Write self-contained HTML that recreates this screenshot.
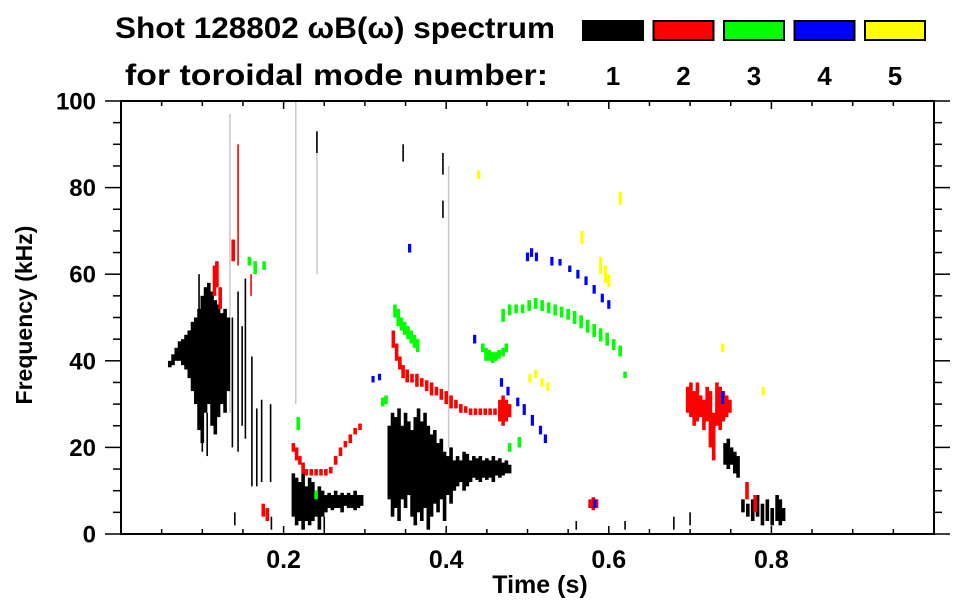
<!DOCTYPE html>
<html><head><meta charset="utf-8"><style>
html,body{margin:0;padding:0;background:#fff;}
svg{display:block;font-family:"Liberation Sans",Arial,sans-serif;font-weight:bold;}
</style></head><body>
<svg id="chart" width="963" height="615" viewBox="0 0 963 615" xmlns="http://www.w3.org/2000/svg">
<rect width="963" height="615" fill="#fff"/>
<text x="115" y="38" font-size="30" textLength="440" lengthAdjust="spacingAndGlyphs">Shot 128802 ωB(ω) spectrum</text>
<text x="125" y="85" font-size="30" textLength="423" lengthAdjust="spacingAndGlyphs">for toroidal mode number:</text>
<g id="legend"></g>
<g id="marks"></g>
<g id="axes"></g>
<text x="540" y="593" font-size="25" text-anchor="middle">Time (s)</text>
<text transform="translate(32,315) rotate(-90)" font-size="23" text-anchor="middle">Frequency (kHz)</text>
</svg>
<script>
// ---- data (time s, freq low kHz, freq high kHz) ----
const legendColors = ["#000000","#ff0000","#00ff00","#0000ff","#ffff00"];
const legendLabels = ["1","2","3","4","5"];
const xTickValues = [0.2,0.4,0.6,0.8];
const xTickLabels = ["0.2","0.4","0.6","0.8"];
const yTickValues = [0,20,40,60,80,100];
const yTickLabels = ["0","20","40","60","80","100"];

const m1T  = [0.060,0.064,0.068,0.072,0.076,0.080,0.084,0.088,0.092,0.096,0.100,0.104,0.108,0.112,0.116,0.120,0.124,0.128,0.132,
 0.212,0.216,0.220,0.224,0.228,0.232,0.236,0.240,0.244,0.248,0.252,0.256,0.260,0.264,0.268,0.272,0.276,0.280,0.284,0.288,0.292,0.296,
 0.330,0.334,0.338,0.342,0.346,0.350,0.354,0.358,0.362,0.366,0.370,0.374,0.378,0.382,0.386,0.390,0.394,0.398,0.402,0.406,0.410,0.414,0.418,0.422,0.426,0.430,0.434,0.438,0.442,0.446,0.450,0.454,0.458,0.462,0.466,0.470,0.474,0.478,
 0.743,0.747,0.751,0.755,0.759,0.765,0.771,0.777,0.783,0.789,0.795,0.801,0.807,0.811,0.815];
const m1Lo = [38.5,39,40,40,39,38,36,33,30,24,21,28,30,25,23,27,30,28,33,
 4,2,3,1,3,2,3,4,1,4,5,6,5.5,6,6,5,6.5,6,6,5.5,6,6.5,
 8,4,6,3,8,6,9,4,2,5,3,6,1,4,7,5,8,3,9,7,10,11,12,10,11,12,13,12.5,12,13,12.5,13,12,13.5,13,13.5,14,14,
 16,15,16,14,13,5,4,3,4,2,3,2,3,2,3];
const m1Hi = [40,41.5,43,44.5,45,46,47,49,50,52,55,57,58,56,54,53,51,52,50,
 14,13,12,14,11,13,12,10,11,10,9,9.5,9,10,9,9.5,9,9.5,9,10,9,9,
 25,28,27,29,25,28,26,24,27,29,26,28,25,23,24,21,22,19,18,20,17,18,17,19,18.5,17,18,17.5,18,17,17.5,17,18,17,17.5,16.5,17,16,
 21,22,20,19,18,8,7,8,9,7,8,6,9,8,6];
// thin vertical mode-1 stripes
const s1T  = [0.100,0.106,0.137,0.144,0.149,0.153,0.161,0.167,0.173,0.184,0.096,0.347,0.396,0.396,0.241,0.560,0.620,0.680,0.700,0.140,0.185,0.250];
const s1Lo = [19,18,20,19,25,22,11,11,12,12,42,86,73,83,88,1,1,1,2,2,1,1];
const s1Hi = [30,28,50,56,48,59,41,29,31,30,60,90,77,88,93,3,3,4,5,5,4,4];
// light gray stripes
const gT  = [0.134,0.215,0.241,0.403];
const gLo = [28,30,60,20];
const gHi = [97,100,93,85];

const m2T  = [0.115,0.118,0.122,0.138,0.212,0.216,0.220,0.224,0.228,0.234,0.240,0.246,0.252,0.258,0.264,0.270,0.276,0.282,0.288,0.294,
 0.335,0.339,0.343,0.347,0.352,0.358,0.364,0.370,0.376,0.382,0.388,0.394,0.400,0.406,0.412,0.418,0.424,0.430,0.436,0.442,0.448,0.454,0.460,0.466,0.470,0.474,0.478,
 0.577,0.581,0.585,0.697,0.701,0.705,0.709,0.713,0.717,0.721,0.725,0.729,0.733,0.737,0.741,0.745,0.749,0.770,0.780,0.175,0.180];
const m2Lo = [55,57,52,63,19,17,16,14,13.5,13.5,13.5,13.5,13.5,14,16,18,20,21,23,24,
 43,40,38,36,35,35,34,34,33,32,32,31,30,29,29,28,28,27.5,27.5,27.5,27.5,27.5,27.5,26,25,26,27,
 6,5.5,6,28,27,25,26,27,24,26,20,17,25,24,26,27,28,8,5,4,3];
const m2Hi = [62,63,57,68,21,20,18,16.5,15,15,15,15,15,15.5,18,20,21.5,23,24.5,25.5,
 47,44,41,39,38,37,37,36,35.5,35,34,33.5,33,32,31,30,29.5,29,29,29,29,29,29,31,32,31,30,
 8,8.5,8,34,35,33,35,32,31,34,33,28,35,34,33,32,31,12,9,7,6];
const s2T  = [0.144,0.160];
const s2Lo = [62,55];
const s2Hi = [90,60];

const m3T  = [0.158,0.165,0.176,0.218,0.322,0.326,0.337,0.341,0.345,0.349,0.353,0.357,0.361,0.365,
 0.445,0.449,0.453,0.457,0.461,0.465,0.470,0.474,
 0.470,0.478,0.486,0.494,0.502,0.510,0.518,0.526,0.534,0.542,0.550,0.558,0.566,0.574,0.582,0.590,0.598,0.606,0.614,0.478,0.490,0.240,0.620];
const m3Lo = [62,60,61,24,29.5,30,50,48,47,46,45,44,43,42,
 42,40,40,39.5,40,40.5,41,42,
 49,50.5,51,51,51.5,52,51.5,51,50.5,50,49.5,48.5,47.5,46.5,45.5,44.5,43.5,42.5,41,19,20,8,36];
const m3Hi = [64,63,63,27,31.5,32,53,52,50,49,48,47,46,45,
 44,43,42.5,42,42,42.5,43,44,
 52,53,53,53,54,54.5,54,53.5,53,52.5,52,51.5,50.5,49.5,48.5,47.5,46.5,45,43.5,21,22.4,10,37.5];

const m4T  = [0.310,0.318,0.435,0.468,0.476,0.488,0.496,0.506,0.516,0.522,
 0.500,0.505,0.511,0.530,0.540,0.552,0.562,0.572,0.582,0.592,0.600,0.583,0.355,0.740];
const m4Lo = [35,35.5,44,34,32,29.5,27.5,25,23,21,
 63,64,63,62,62,60.5,59,57.5,55.5,53.5,52,6,65,30];
const m4Hi = [36.5,37,46,36,34,31.5,30,27.5,25,23,
 65,66,65,64,63.5,62,61,59.5,57.5,55.5,54,8,67,33];

const m5T  = [0.567,0.590,0.596,0.600,0.614,0.503,0.510,0.518,0.525,0.740,0.440,0.790];
const m5Lo = [67,60,58,57,76,35,36,34,33,42,82,32];
const m5Hi = [70,64,62,60,79,37,38,36,35,44,84,34];

// ---- axes mapping ----
const L=121,R=934,T=101,B=534;
const xMin=0,xMax=1,yMin=0,yMax=100;
function X(t){return L+(t-xMin)/(xMax-xMin)*(R-L);}
function Y(f){return B-(f-yMin)/(yMax-yMin)*(B-T);}
const NS="http://www.w3.org/2000/svg";
function mk(tag,attrs,parent){const e=document.createElementNS(NS,tag);for(const k in attrs)e.setAttribute(k,attrs[k]);parent.appendChild(e);return e;}
const marks=document.getElementById('marks');
function drawCols(ts,los,his,color,w,name){
  for(let i=0;i<ts.length;i++){
    const y1=Y(his[i]),y2=Y(los[i]);
    const r=mk('rect',{x:X(ts[i])-w/2,y:y1,width:w,height:Math.max(1,y2-y1),fill:color},marks);
    
    
  }
}
drawCols(gT,gLo,gHi,"#c8c8c8",1.5,"gray-stripe");
drawCols(m1T,m1Lo,m1Hi,"#000",3.6,"mode1-cell");
drawCols(s1T,s1Lo,s1Hi,"#000",1.6,"mode1-stripe");
drawCols(m2T,m2Lo,m2Hi,"#ff0000",3.6,"mode2-cell");
drawCols(s2T,s2Lo,s2Hi,"#ff0000",1.6,"mode2-stripe");
drawCols(m3T,m3Lo,m3Hi,"#00ff00",3.6,"mode3-cell");
drawCols(m4T,m4Lo,m4Hi,"#0000ff",3.2,"mode4-cell");
drawCols(m5T,m5Lo,m5Hi,"#ffff00",3.2,"mode5-cell");

const axes=document.getElementById('axes');
const frame=mk('rect',{x:L,y:T,width:R-L,height:B-T,fill:"none",stroke:"#000","stroke-width":2},axes);


for(let v=0;v<=1.0001;v+=0.05){
  const major=Math.abs(v/0.2-Math.round(v/0.2))<1e-6;
  const len=major?8:5;const x=X(v);
  const a=mk('line',{x1:x,y1:B,x2:x,y2:B-len,stroke:"#000","stroke-width":1.5},axes);
  
  
  const b=mk('line',{x1:x,y1:T,x2:x,y2:T+len,stroke:"#000","stroke-width":1.5},axes);
  
  
}
xTickValues.forEach((v,i)=>{
  const t=mk('text',{x:X(v),y:568,"font-size":25,"text-anchor":"middle"},axes);
  t.textContent=xTickLabels[i];
  
  
});
for(let v=0;v<=100;v+=5){
  const major=v%20===0;const len=major?16:8;const y=Y(v);
  const a=mk('line',{x1:L,y1:y,x2:L-len,y2:y,stroke:"#000","stroke-width":1.5},axes);
  
  
  const b=mk('line',{x1:R,y1:y,x2:R+len,y2:y,stroke:"#000","stroke-width":1.5},axes);
  
  
}
yTickValues.forEach((v,i)=>{
  const t=mk('text',{x:96,y:Y(v)+8.5,"font-size":24,"text-anchor":"end"},axes);
  t.textContent=yTickLabels[i];
  
  
});
const lg=document.getElementById('legend');
legendColors.forEach((c,i)=>{
  const x0=582+i*70.5;
  const r=mk('rect',{x:x0+1,y:21,width:60,height:19,fill:c,stroke:"#000","stroke-width":2},lg);
  
  
  const t=mk('text',{x:x0+31,y:85,"font-size":26,"text-anchor":"middle"},lg);
  t.textContent=legendLabels[i];
  
  
});
</script>
</body></html>
